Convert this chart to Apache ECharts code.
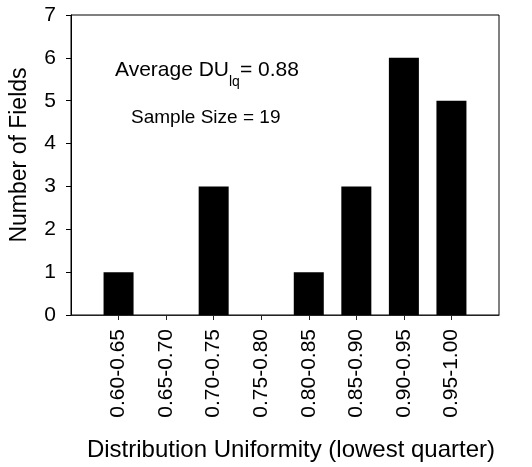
<!DOCTYPE html>
<html>
<head>
<meta charset="utf-8">
<script src="https://cdn.jsdelivr.net/npm/echarts@6/dist/echarts.min.js"></script>
<style>html,body{margin:0;padding:0;background:#fff}#c{width:532px;height:467px}</style>
</head>
<body>
<div id="c"></div>
<script>
const categories = ['0.60-0.65','0.65-0.70','0.70-0.75','0.75-0.80','0.80-0.85','0.85-0.90','0.90-0.95','0.95-1.00'];
const fieldCounts = [1, 0, 3, 0, 1, 3, 6, 5];
const yTicks = [0, 1, 2, 3, 4, 5, 6, 7];
const xTitle = 'Distribution Uniformity (lowest quarter)';
const yTitle = 'Number of Fields';
const avgLabel = ['Average DU', 'lq', '= 0.88'];
const sampleLabel = 'Sample Size = 19';

const FONT = "'Liberation Sans', Arial, sans-serif";
const axisCats = [''].concat(categories, ['']);
const barData = [null].concat(fieldCounts, [null]);

const chart = echarts.init(document.getElementById('c'), null, {renderer: 'canvas'});
chart.setOption({
  animation: false,
  backgroundColor: '#fff',
  grid: {left: 71, right: 33, top: 15, bottom: 152, show: true, borderColor: '#000', borderWidth: 1,
         backgroundColor: 'transparent', containLabel: false, outerBoundsMode: 'none'},
  xAxis: {
    type: 'category',
    data: axisCats,
    boundaryGap: false,
    axisLine: {lineStyle: {color: '#222', width: 1}},
    axisTick: {show: true, length: 5, inside: false, lineStyle: {color: '#222'},
      interval: function (i) { return i > 0 && i < axisCats.length - 1; }},
    axisLabel: {rotate: 90, margin: 14, fontSize: 21, color: '#000', fontFamily: FONT, interval: 0},
    name: xTitle,
    nameLocation: 'middle',
    nameGap: 123,
    nameTextStyle: {fontSize: 24, color: '#000', fontFamily: FONT, padding: [0, 0, 0, 12]}
  },
  yAxis: {
    type: 'value',
    min: yTicks[0],
    max: yTicks[yTicks.length - 1],
    interval: 1,
    splitLine: {show: false},
    axisLine: {show: true, lineStyle: {color: '#000', width: 1}},
    axisTick: {show: true, length: 5, lineStyle: {color: '#000'}},
    axisLabel: {margin: 15, fontSize: 21, color: '#000', fontFamily: FONT},
    name: yTitle,
    nameLocation: 'middle',
    nameGap: 40,
    nameTextStyle: {fontSize: 23, color: '#000', fontFamily: FONT, padding: [0, 0, 0, 20]}
  },
  series: [{
    type: 'bar',
    data: barData,
    barWidth: 30,
    itemStyle: {color: '#000'}
  }],
  graphic: [
    {type: 'text', left: 115, top: 58, z: 10,
     style: {
       rich: {
         a: {fontSize: 21, fontFamily: FONT, fill: '#000', lineHeight: 24, verticalAlign: 'middle'},
         s: {fontSize: 14, fontFamily: FONT, fill: '#000', lineHeight: 14, verticalAlign: 'top', padding: [17, 0, 0, 0]}
       },
       text: '{a|' + avgLabel[0] + '}{s|' + avgLabel[1] + '}{a|' + avgLabel[2] + '}'
     }},
    {type: 'text', left: 131, top: 108, z: 10,
     style: {text: sampleLabel, fontSize: 19, fontFamily: FONT, fill: '#000'}}
  ]
});
</script>
</body>
</html>
